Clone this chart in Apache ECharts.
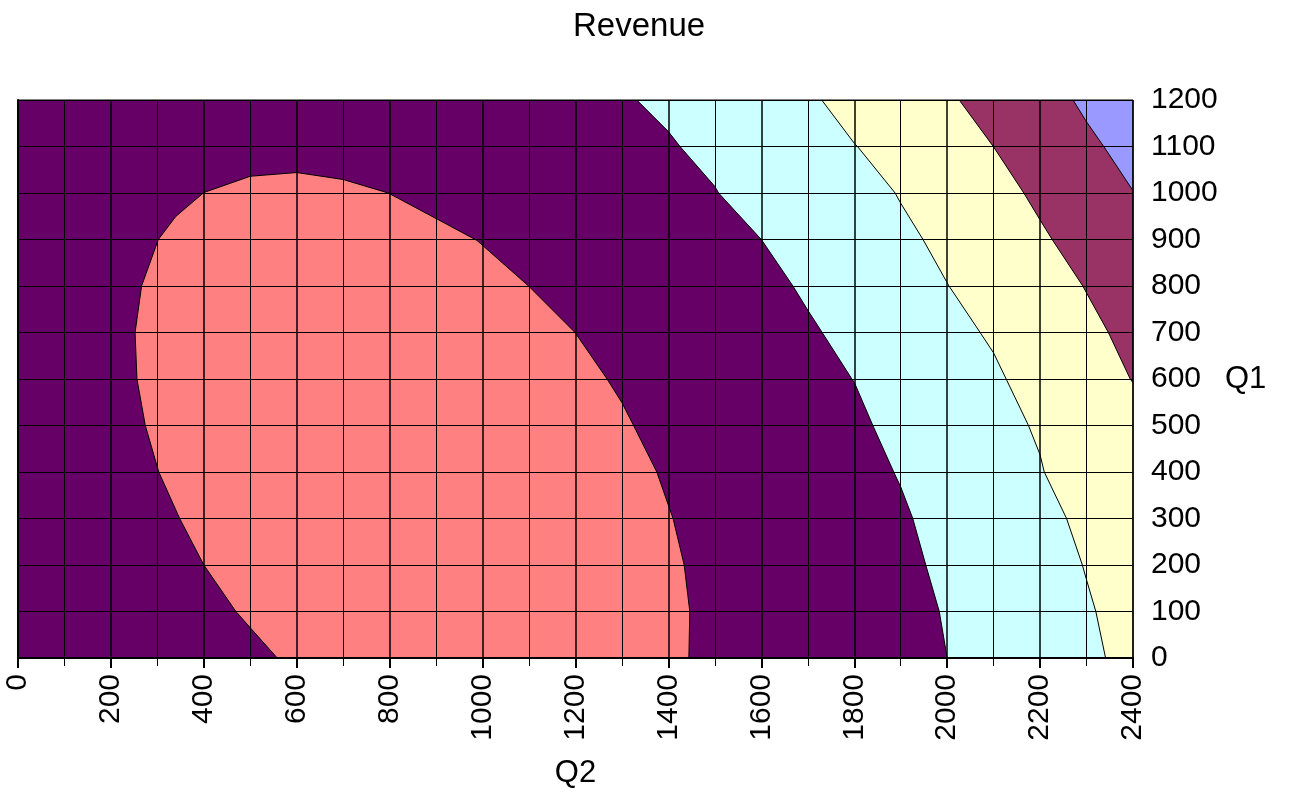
<!DOCTYPE html>
<html>
<head>
<meta charset="utf-8">
<title>Revenue</title>
<script src="https://cdn.jsdelivr.net/npm/echarts@6/dist/echarts.min.js"></script>
<style>
  html, body { margin: 0; padding: 0; background: #fff; }
  #myChart { width: 1293px; height: 811px; }
</style>
</head>
<body>
<div id="myChart"></div>
<script>
// axis ranges (Q2 across, Q1 up)
var q2Range = [0, 2400];
var q2Step = 200;
var q1Range = [0, 1200];
var q1Step = 100;

// contour band edges, as [Q2, Q1]
// (excel joins the grid-line crossings with straight pieces)
// salmon (highest) band - closed along the bottom edge
var bandTop = [
  [558, 0], [500, 65], [469, 100], [400, 200], [348, 300], [303, 400],
  [274, 500], [256, 600], [252, 700], [266, 800], [302, 900], [340, 950],
  [400, 1001], [500, 1036], [600, 1044], [700, 1029], [797, 1000], [900, 945],
  [988, 898], [1099, 800], [1199, 700], [1268, 600], [1300, 549],
  [1325, 500], [1375, 400], [1410, 300], [1434, 200], [1446, 100], [1444, 0]
];
// purple / cyan edge
var edgeCyan = [
  [1332, 1200], [1400, 1132], [1425, 1100], [1500, 1014], [1508, 1000],
  [1600, 900], [1668, 800], [1700, 748], [1731, 700], [1795, 600],
  [1800, 593], [1840, 500], [1885, 400], [1900, 368], [1926, 300],
  [1954, 200], [1983, 100], [2000, 0]
];
// cyan / yellow edge
var edgeYellow = [
  [1730, 1200], [1800, 1107], [1807, 1100], [1888, 1000], [1900, 978],
  [1948, 900], [2000, 807], [2004, 800], [2071, 700], [2100, 656],
  [2127, 600], [2175, 500], [2200, 437], [2209, 400], [2257, 300],
  [2291, 200], [2300, 168], [2320, 100], [2341, 0]
];
// yellow / maroon edge
var edgeMaroon = [
  [2026, 1200], [2100, 1099], [2165, 1000], [2200, 942], [2226, 900],
  [2292, 800], [2300, 785], [2347, 700], [2394, 600], [2400, 592]
];
// maroon / blue edge
var edgeBlue = [
  [2271, 1200], [2300, 1153], [2337, 1100], [2400, 1005]
];

var chartInst = echarts.init(document.getElementById('myChart'));

function bandSeries(points, color) {
  return {
    type: 'custom',
    coordinateSystem: 'cartesian2d',
    silent: true,
    clip: true,
    data: [points[0]],
    renderItem: function (params, api) {
      return {
        type: 'polygon',
        shape: {
          points: points.map(function (p) { return api.coord(p); })
        },
        style: { fill: color, stroke: '#000', lineWidth: 1 }
      };
    }
  };
}

var corner = [q2Range[1], q1Range[1]];
var cornerBottom = [q2Range[1], q1Range[0]];

var font = 'Liberation Sans, Arial, sans-serif';
var plain = function (v) { return String(v); };

chartInst.setOption({
  animation: false,
  title: {
    text: 'Revenue',
    left: 568,
    top: 5,
    textStyle: { color: '#000', fontSize: 33, fontWeight: 'normal', fontFamily: font }
  },
  grid: {
    left: 18,
    right: 160,
    top: 100,
    bottom: 153,
    show: true,
    backgroundColor: '#660066',
    borderColor: '#000',
    borderWidth: 1
  },
  xAxis: {
    type: 'value',
    min: q2Range[0],
    max: q2Range[1],
    interval: q2Step,
    z: 5,
    name: 'Q2',
    nameLocation: 'middle',
    nameGap: 100,
    nameTextStyle: { color: '#000', fontSize: 31, fontFamily: font },
    axisLine: { show: true, lineStyle: { color: '#000', width: 2 } },
    axisTick: { show: true, length: 10, lineStyle: { color: '#000', width: 2 } },
    minorTick: { show: true, splitNumber: 2, length: 8, lineStyle: { color: '#000', width: 1 } },
    splitLine: { show: true, lineStyle: { color: '#000', width: 1.5 } },
    minorSplitLine: { show: true, lineStyle: { color: '#000', width: 1 } },
    axisLabel: { rotate: 90, margin: 16, color: '#000', fontSize: 30, fontFamily: font, formatter: plain }
  },
  yAxis: {
    type: 'value',
    position: 'right',
    min: q1Range[0],
    max: q1Range[1],
    interval: q1Step,
    z: 5,
    name: 'Q1',
    nameLocation: 'middle',
    nameRotate: 0,
    nameGap: 92,
    nameTextStyle: { color: '#000', fontSize: 31, fontFamily: font },
    axisLine: { show: true, lineStyle: { color: '#000', width: 2 } },
    axisTick: { show: true, length: 10, lineStyle: { color: '#000', width: 1 } },
    splitLine: { show: true, lineStyle: { color: '#000', width: 1 } },
    axisLabel: { margin: 18, color: '#000', fontSize: 30, fontFamily: font, formatter: plain }
  },
  series: [
    bandSeries(edgeCyan.concat([cornerBottom, corner]), '#CCFFFF'),
    bandSeries(edgeYellow.concat([cornerBottom, corner]), '#FFFFCC'),
    bandSeries(edgeMaroon.concat([corner]), '#993366'),
    bandSeries(edgeBlue.concat([corner]), '#9999FF'),
    bandSeries(bandTop, '#FF8080')
  ]
});
</script>
</body>
</html>
